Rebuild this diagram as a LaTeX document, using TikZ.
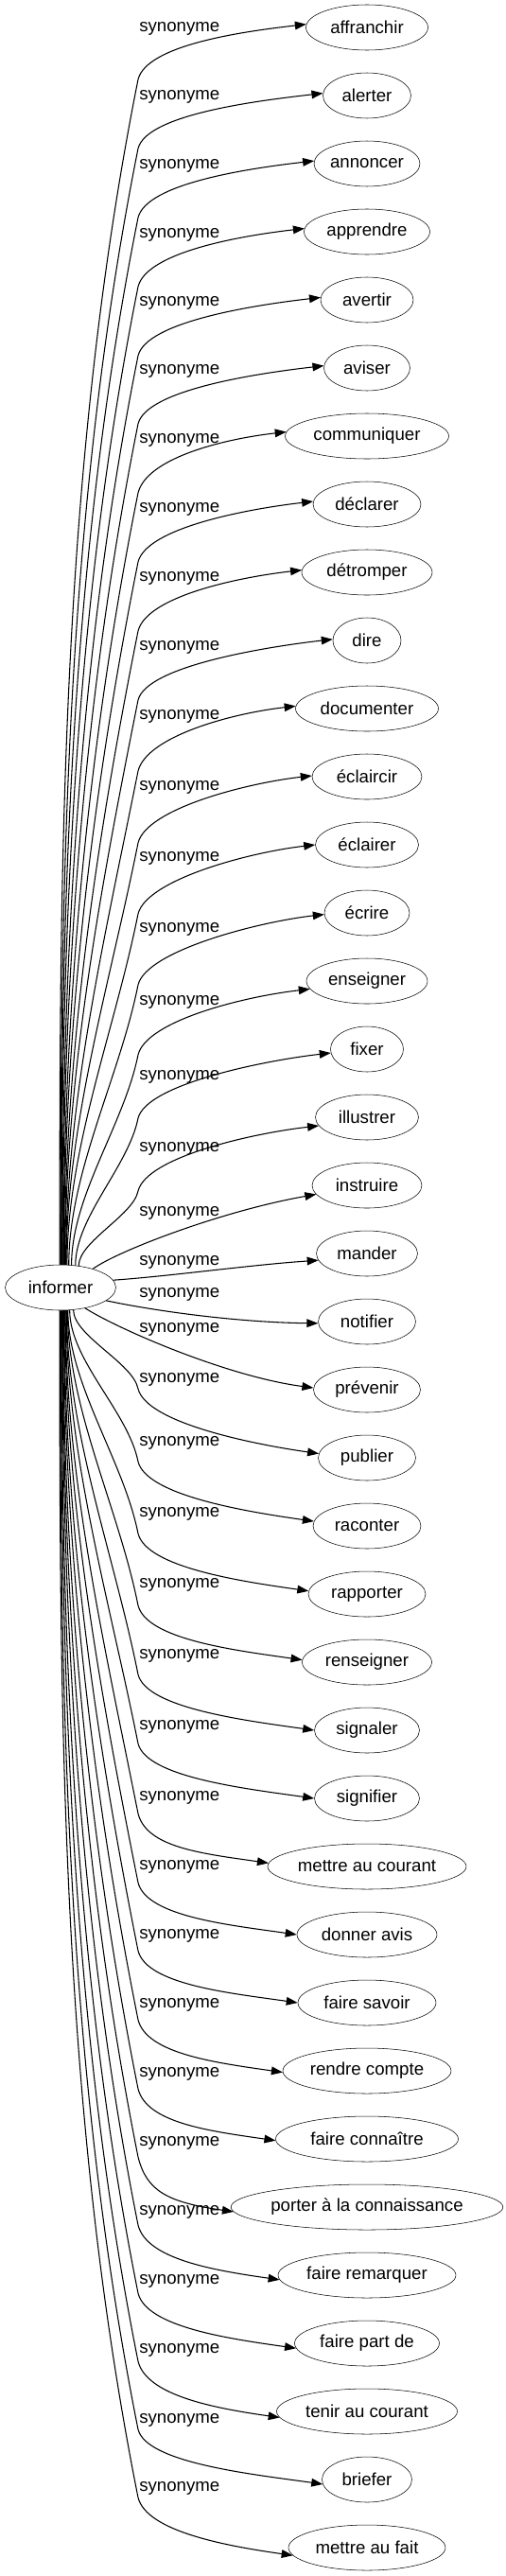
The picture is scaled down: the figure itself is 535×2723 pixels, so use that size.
\documentclass[tikz,border=0pt]{standalone}
\usepackage{fontspec}
\setmainfont{Liberation Sans}
\usepackage{tikz}
\usetikzlibrary{shapes.geometric, arrows.meta, calc}
\tikzset{
  word/.style={draw, ellipse, minimum height=36pt, inner xsep=0pt, inner ysep=2pt, font=\fontsize{14pt}{16pt}\selectfont},
  lbl/.style={anchor=west, inner sep=0pt, font=\fontsize{14pt}{16pt}\selectfont},
  arr/.style={-{Triangle[length=9pt,width=6.5pt]}, line width=0.8pt},
}

\begin{document}
\begin{tikzpicture}[x=0.75pt, y=-0.75pt]
  \useasboundingbox (0,0) rectangle (535,2723);
  \node[word, minimum width=87.75pt] (informer) at (64,1361) {informer};
  \foreach \nm/\txt/\w [count=\k from 0] in {affranchir/affranchir/129, alerter/alerter/93, annoncer/annoncer/112,
      apprendre/apprendre/133, avertir/avertir/98, aviser/aviser/91, communiquer/communiquer/173,
      declarer/déclarer/114, detromper/détromper/138, dire/dire/72, documenter/documenter/151,
      eclaircir/éclaircir/116, eclairer/éclairer/109, ecrire/écrire/90, enseigner/enseigner/128,
      fixer/fixer/77, illustrer/illustrer/109, instruire/instruire/116, mander/mander/107,
      notifier/notifier/103, prevenir/prévenir/113, publier/publier/103, raconter/raconter/114,
      rapporter/rapporter/124, renseigner/renseigner/137, signaler/signaler/111, signifier/signifier/111,
      mettreaucourant/mettre au courant/210, donneravis/donner avis/148, fairesavoir/faire savoir/146,
      rendrecompte/rendre compte/178, faireconnaitre/faire connaître/193,
      porter/porter à la connaissance/279, faireremarquer/faire remarquer/188,
      fairepartde/faire part de/153, tenircourant/tenir au courant/191, briefer/briefer/95,
      mettreaufait/mettre au fait/166}
    \node[word, minimum width=0.75pt*\w] (\nm) at (388,{29+72*\k}) {\txt};

  \foreach \nm/\k/\sa/\lo/\bo/\ta in {affranchir/0/92/1/55/177, alerter/1/90/1/56/177,
      annoncer/2/89/2/57/177, apprendre/3/88/3/58/177, avertir/4/86/3/59/177, aviser/5/85/3/59/177,
      communiquer/6/83/4/60/177, declarer/7/82/5/61/177, detromper/8/80/6/62/178, dire/9/79/7/63/178,
      documenter/10/77/8/66/178, eclaircir/11/76/11/70/179, eclairer/12/74/14/73/180,
      ecrire/13/70/17/76/182, enseigner/14/64/22/78/188, fixer/15/56/29/73/186, illustrer/16/50/33/78/190}{
    \pgfmathsetmacro\yk{29+72*\k}
    \pgfmathsetmacro\ly{\yk+(\lo)}
    \pgfmathsetmacro\by{\yk+(\bo)}
    \pgfmathsetmacro\h{0.33*(1337-\by)}
    \node[lbl] (syn\k) at (147,\ly) {synonyme};
    \draw[arr] (informer.\sa) .. controls ($(informer.\sa)+(0,-\h)$) and ($(146,\by)+(-0.2*\h,\h)$) .. (146,\by)
      .. controls ($(146,\by)+(9,-36)$) and ($(\nm.\ta)+(-70,8)$) .. (\nm.\ta);
  }

  \node[lbl] (syn17) at (147,1282) {synonyme};
  \draw[arr] (informer.30) .. controls (125,1322) and (235,1280) .. (instruire.190);
  \node[lbl] (syn18) at (147,1334) {synonyme};
  \draw[arr] (informer.8) .. controls (180,1349) and (265,1337) .. (mander.188);
  \node[lbl] (syn19) at (147,1368) {synonyme};
  \draw[arr] (informer.344) .. controls (175,1388) and (260,1398) .. (notifier.182);
  \node[lbl] (syn20) at (147,1405) {synonyme};
  \draw[arr] (informer.320) .. controls (125,1405) and (240,1455) .. (prevenir.178);

  \foreach \nm/\k/\sa/\lo/\bo/\ta in {publier/21/300/-83/-73/175, raconter/22/292/-88/-68/175,
      rapporter/23/288/-85/-64/177, renseigner/24/287/-82/-60/178, signaler/25/285/-79/-59/180,
      signifier/26/284/-76/-58/180, mettreaucourant/27/282/-73/-56/178, donneravis/28/281/-72/-55/180,
      fairesavoir/29/279/-71/-55/180, rendrecompte/30/278/-70/-54/181, faireconnaitre/31/276/-69/-53/181,
      porter/32/275/-68/-53/182, faireremarquer/33/274/-67/-53/183, fairepartde/34/272/-66/-53/184,
      tenircourant/35/271/-65/-53/184, briefer/36/269/-63/-53/186, mettreaufait/37/268/-63/-53/186}{
    \pgfmathsetmacro\yk{29+72*\k}
    \pgfmathsetmacro\ly{\yk+(\lo)}
    \pgfmathsetmacro\by{\yk+(\bo)}
    \pgfmathsetmacro\h{0.33*(\by-1385)}
    \node[lbl] (syn\k) at (147,\ly) {synonyme};
    \draw[arr] (informer.\sa) .. controls ($(informer.\sa)+(0,\h)$) and ($(146,\by)+(-0.2*\h,-\h)$) .. (146,\by)
      .. controls ($(146,\by)+(9,36)$) and ($(\nm.\ta)+(-70,-10)$) .. (\nm.\ta);
  }
\end{tikzpicture}
\end{document}
